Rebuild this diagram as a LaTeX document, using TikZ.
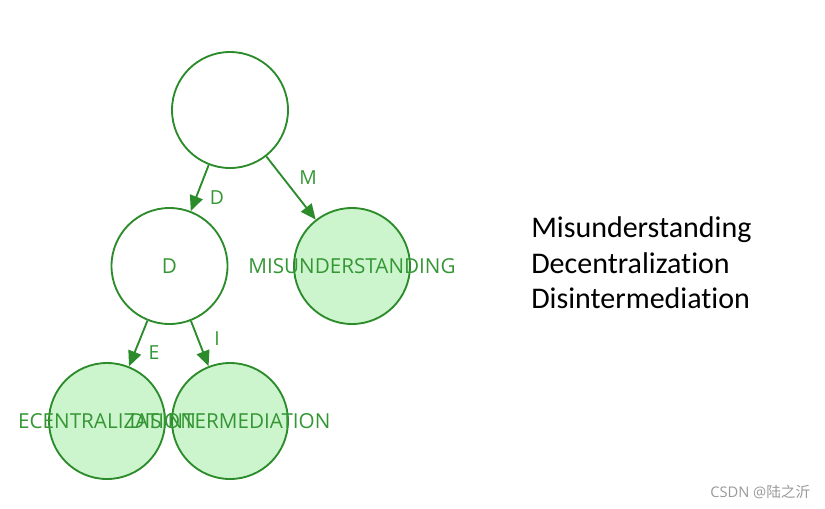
\documentclass[tikz,border=0pt]{standalone}
\usepackage{fontspec}
\setmainfont{Open Sans}
\newfontfamily\rightfont[Ligatures=NoCommon]{Carlito}
\newfontfamily\cjkfont{Noto Sans CJK SC}
\usetikzlibrary{arrows.meta}
\definecolor{trieline}{RGB}{44,140,44}
\definecolor{triefill}{RGB}{205,245,205}
\definecolor{trietext}{RGB}{52,150,52}
\tikzset{
  trienode/.style={circle, draw=trieline, line width=1.4pt, minimum size=87pt, inner sep=0pt},
  leafnode/.style={trienode, fill=triefill},
  nodetext/.style={text=trietext, font=\fontsize{15.5}{15.5}\selectfont, inner sep=0pt},
  edgetext/.style={text=trietext, font=\fontsize{14.5}{14.5}\selectfont},
  wordtext/.style={anchor=base west, font=\rightfont\fontsize{22.5}{22.5}\selectfont, inner sep=0pt},
  trieedge/.style={draw=trieline, line width=1.4pt, -{Triangle[length=11.5pt, width=10pt]}}
}
\begin{document}
\begin{tikzpicture}[x=0.75pt, y=-0.75pt]
      \useasboundingbox (0,0) rectangle (825,508);
      %
      \node[trienode] (root) at (230,110) {};          % root
      \node[trienode] (d)    at (169.5,266) {};        % second row
      \node[leafnode] (m)    at (352,266) {};
      \node[leafnode] (e)    at (107,421) {};          % third row
      \node[leafnode] (i)    at (230,421) {};
      %
      \node[nodetext] (dlab) at (d)  {D};              % node labels
      \node[nodetext] (mlab) at (m)  {MISUNDERSTANDING};
      \node[nodetext] (elab) at (e)  {ECENTRALIZATION};
      \node[nodetext] (ilab) at (i)  {DISINTERMEDIATION};
      %
      \draw[trieedge] (root) -- (d);                   % edges
      \draw[trieedge] (root) -- (m);
      \draw[trieedge] (d) -- (e);
      \draw[trieedge] (d) -- (i);
      %
      \node[edgetext] (dedge) at (217,198) {D};        % edge labels
      \node[edgetext] (medge) at (308,178) {M};
      \node[edgetext] (eedge) at (154,353) {E};
      \node[edgetext] (iedge) at (217,339) {I};
      %
      \node[wordtext] (w1) at (531,237) {Misunderstanding};   % word list
      \node[wordtext] (w2) at (531,273) {Decentralization};
      \node[wordtext] (w3) at (531,308) {Disintermediation};
      %
      \node[anchor=base west, text=black!40, font=\fontsize{11}{11}\selectfont, inner sep=0pt]
        (mark) at (710,497) {CSDN @{\cjkfont 陆之沂}};  % watermark
      %
    \end{tikzpicture}
\end{document}
